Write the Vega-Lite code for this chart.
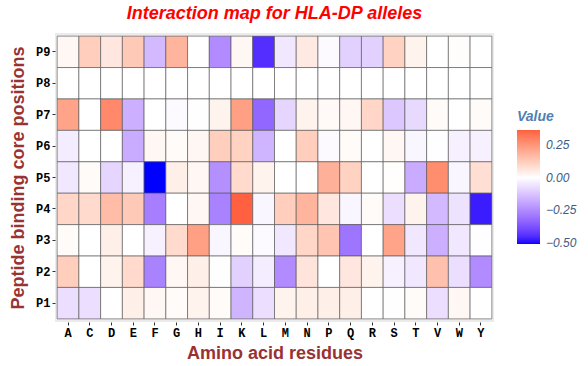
{
  "$schema": "https://vega.github.io/schema/vega-lite/v6.json",
  "width": 439,
  "height": 289,
  "autosize": {"type": "none"},
  "padding": {"left": 55, "top": 33, "right": 94, "bottom": 44},
  "background": "white",
  "title": {
    "text": "Interaction map for HLA-DP alleles",
    "font": "Liberation Sans",
    "fontSize": 18,
    "fontWeight": "bold",
    "fontStyle": "italic",
    "color": "#FF0000",
    "anchor": "middle",
    "offset": 10
  },
  "config": {
    "view": {"fill": "#EBEBEB", "stroke": null},
    "axis": {
      "domain": false,
      "grid": false,
      "tickColor": "#333333",
      "tickSize": 3,
      "labelFont": "Liberation Mono",
      "labelFontWeight": "bold",
      "labelFontSize": 12,
      "labelColor": "#000000",
      "titleFont": "Liberation Sans",
      "titleFontWeight": "bold",
      "titleFontSize": 18,
      "titleColor": "#993333"
    }
  },
  "data": {
    "values": [
      {"aa":"A","pos":"P9","v":0.02},{"aa":"C","pos":"P9","v":0.12},{"aa":"D","pos":"P9","v":0.06},{"aa":"E","pos":"P9","v":0.13},{"aa":"F","pos":"P9","v":-0.15},{"aa":"G","pos":"P9","v":0.18},{"aa":"H","pos":"P9","v":0.0},{"aa":"I","pos":"P9","v":-0.25},{"aa":"K","pos":"P9","v":0.02},{"aa":"L","pos":"P9","v":-0.45},{"aa":"M","pos":"P9","v":-0.05},{"aa":"N","pos":"P9","v":0.05},{"aa":"P","pos":"P9","v":-0.01},{"aa":"Q","pos":"P9","v":-0.1},{"aa":"R","pos":"P9","v":-0.1},{"aa":"S","pos":"P9","v":0.11},{"aa":"T","pos":"P9","v":0.03},{"aa":"V","pos":"P9","v":0.0},{"aa":"W","pos":"P9","v":0.005},{"aa":"Y","pos":"P9","v":0.0},
      {"aa":"A","pos":"P8","v":0},{"aa":"C","pos":"P8","v":0},{"aa":"D","pos":"P8","v":0},{"aa":"E","pos":"P8","v":0},{"aa":"F","pos":"P8","v":0},{"aa":"G","pos":"P8","v":0},{"aa":"H","pos":"P8","v":0},{"aa":"I","pos":"P8","v":0},{"aa":"K","pos":"P8","v":0},{"aa":"L","pos":"P8","v":0},{"aa":"M","pos":"P8","v":0},{"aa":"N","pos":"P8","v":0},{"aa":"P","pos":"P8","v":0},{"aa":"Q","pos":"P8","v":0},{"aa":"R","pos":"P8","v":0},{"aa":"S","pos":"P8","v":0},{"aa":"T","pos":"P8","v":0},{"aa":"V","pos":"P8","v":0},{"aa":"W","pos":"P8","v":0},{"aa":"Y","pos":"P8","v":0},
      {"aa":"A","pos":"P7","v":0.22},{"aa":"C","pos":"P7","v":0.0},{"aa":"D","pos":"P7","v":0.28},{"aa":"E","pos":"P7","v":-0.17},{"aa":"F","pos":"P7","v":0.0},{"aa":"G","pos":"P7","v":-0.01},{"aa":"H","pos":"P7","v":-0.003},{"aa":"I","pos":"P7","v":0.03},{"aa":"K","pos":"P7","v":0.23},{"aa":"L","pos":"P7","v":-0.33},{"aa":"M","pos":"P7","v":-0.09},{"aa":"N","pos":"P7","v":0.03},{"aa":"P","pos":"P7","v":0.015},{"aa":"Q","pos":"P7","v":0.02},{"aa":"R","pos":"P7","v":0.1},{"aa":"S","pos":"P7","v":-0.12},{"aa":"T","pos":"P7","v":-0.08},{"aa":"V","pos":"P7","v":0.01},{"aa":"W","pos":"P7","v":0.0},{"aa":"Y","pos":"P7","v":0.01},
      {"aa":"A","pos":"P6","v":-0.04},{"aa":"C","pos":"P6","v":0.0},{"aa":"D","pos":"P6","v":0.0},{"aa":"E","pos":"P6","v":-0.18},{"aa":"F","pos":"P6","v":0.02},{"aa":"G","pos":"P6","v":0.01},{"aa":"H","pos":"P6","v":0.02},{"aa":"I","pos":"P6","v":0.12},{"aa":"K","pos":"P6","v":0.11},{"aa":"L","pos":"P6","v":-0.16},{"aa":"M","pos":"P6","v":0.0},{"aa":"N","pos":"P6","v":0.12},{"aa":"P","pos":"P6","v":-0.01},{"aa":"Q","pos":"P6","v":0.01},{"aa":"R","pos":"P6","v":0.0},{"aa":"S","pos":"P6","v":0.02},{"aa":"T","pos":"P6","v":-0.02},{"aa":"V","pos":"P6","v":-0.005},{"aa":"W","pos":"P6","v":-0.03},{"aa":"Y","pos":"P6","v":-0.03},
      {"aa":"A","pos":"P5","v":-0.05},{"aa":"C","pos":"P5","v":0.01},{"aa":"D","pos":"P5","v":-0.09},{"aa":"E","pos":"P5","v":-0.03},{"aa":"F","pos":"P5","v":-0.51},{"aa":"G","pos":"P5","v":0.04},{"aa":"H","pos":"P5","v":0.02},{"aa":"I","pos":"P5","v":-0.24},{"aa":"K","pos":"P5","v":0.09},{"aa":"L","pos":"P5","v":0.03},{"aa":"M","pos":"P5","v":0.0},{"aa":"N","pos":"P5","v":0.0},{"aa":"P","pos":"P5","v":0.19},{"aa":"Q","pos":"P5","v":0.11},{"aa":"R","pos":"P5","v":0.0},{"aa":"S","pos":"P5","v":0.003},{"aa":"T","pos":"P5","v":-0.18},{"aa":"V","pos":"P5","v":0.27},{"aa":"W","pos":"P5","v":-0.02},{"aa":"Y","pos":"P5","v":0.08},
      {"aa":"A","pos":"P4","v":0.1},{"aa":"C","pos":"P4","v":0.09},{"aa":"D","pos":"P4","v":0.16},{"aa":"E","pos":"P4","v":0.13},{"aa":"F","pos":"P4","v":-0.28},{"aa":"G","pos":"P4","v":0.0},{"aa":"H","pos":"P4","v":0.02},{"aa":"I","pos":"P4","v":-0.27},{"aa":"K","pos":"P4","v":0.365},{"aa":"L","pos":"P4","v":-0.02},{"aa":"M","pos":"P4","v":0.12},{"aa":"N","pos":"P4","v":0.18},{"aa":"P","pos":"P4","v":0.06},{"aa":"Q","pos":"P4","v":-0.02},{"aa":"R","pos":"P4","v":0.01},{"aa":"S","pos":"P4","v":-0.07},{"aa":"T","pos":"P4","v":0.03},{"aa":"V","pos":"P4","v":-0.15},{"aa":"W","pos":"P4","v":-0.06},{"aa":"Y","pos":"P4","v":-0.48},
      {"aa":"A","pos":"P3","v":0.01},{"aa":"C","pos":"P3","v":0.0},{"aa":"D","pos":"P3","v":0.04},{"aa":"E","pos":"P3","v":0.0},{"aa":"F","pos":"P3","v":-0.03},{"aa":"G","pos":"P3","v":0.09},{"aa":"H","pos":"P3","v":0.23},{"aa":"I","pos":"P3","v":-0.02},{"aa":"K","pos":"P3","v":0.01},{"aa":"L","pos":"P3","v":-0.01},{"aa":"M","pos":"P3","v":-0.05},{"aa":"N","pos":"P3","v":0.1},{"aa":"P","pos":"P3","v":0.14},{"aa":"Q","pos":"P3","v":-0.3},{"aa":"R","pos":"P3","v":0.0},{"aa":"S","pos":"P3","v":0.22},{"aa":"T","pos":"P3","v":-0.05},{"aa":"V","pos":"P3","v":-0.17},{"aa":"W","pos":"P3","v":-0.05},{"aa":"Y","pos":"P3","v":-0.005},
      {"aa":"A","pos":"P2","v":0.12},{"aa":"C","pos":"P2","v":0.0},{"aa":"D","pos":"P2","v":0.03},{"aa":"E","pos":"P2","v":0.09},{"aa":"F","pos":"P2","v":-0.27},{"aa":"G","pos":"P2","v":0.02},{"aa":"H","pos":"P2","v":0.04},{"aa":"I","pos":"P2","v":-0.003},{"aa":"K","pos":"P2","v":-0.1},{"aa":"L","pos":"P2","v":-0.04},{"aa":"M","pos":"P2","v":-0.25},{"aa":"N","pos":"P2","v":0.065},{"aa":"P","pos":"P2","v":0.0},{"aa":"Q","pos":"P2","v":0.06},{"aa":"R","pos":"P2","v":0.03},{"aa":"S","pos":"P2","v":-0.03},{"aa":"T","pos":"P2","v":-0.05},{"aa":"V","pos":"P2","v":0.15},{"aa":"W","pos":"P2","v":-0.07},{"aa":"Y","pos":"P2","v":-0.25},
      {"aa":"A","pos":"P1","v":-0.07},{"aa":"C","pos":"P1","v":-0.07},{"aa":"D","pos":"P1","v":0.0},{"aa":"E","pos":"P1","v":0.04},{"aa":"F","pos":"P1","v":0.02},{"aa":"G","pos":"P1","v":0.01},{"aa":"H","pos":"P1","v":0.03},{"aa":"I","pos":"P1","v":0.01},{"aa":"K","pos":"P1","v":-0.16},{"aa":"L","pos":"P1","v":-0.07},{"aa":"M","pos":"P1","v":0.03},{"aa":"N","pos":"P1","v":0.04},{"aa":"P","pos":"P1","v":0.04},{"aa":"Q","pos":"P1","v":0.04},{"aa":"R","pos":"P1","v":0.0},{"aa":"S","pos":"P1","v":-0.003},{"aa":"T","pos":"P1","v":0.01},{"aa":"V","pos":"P1","v":-0.07},{"aa":"W","pos":"P1","v":0.02},{"aa":"Y","pos":"P1","v":0.0}
    ]
  },
  "mark": {"type": "rect", "stroke": "#4d4d4d", "strokeWidth": 0.7, "strokeOpacity": 0.85},
  "encoding": {
    "x": {
      "field": "aa",
      "type": "nominal",
      "sort": ["A","C","D","E","F","G","H","I","K","L","M","N","P","Q","R","S","T","V","W","Y"],
      "scale": {"paddingInner": 0, "paddingOuter": 0.1},
      "axis": {"title": "Amino acid residues", "labelAngle": 0, "labelPadding": 2, "titlePadding": 6}
    },
    "y": {
      "field": "pos",
      "type": "nominal",
      "sort": ["P9","P8","P7","P6","P5","P4","P3","P2","P1"],
      "scale": {"paddingInner": 0, "paddingOuter": 0.1},
      "axis": {"title": "Peptide binding core positions", "labelPadding": 2, "titlePadding": 8}
    },
    "color": {
      "field": "v",
      "type": "quantitative",
      "title": "Value",
      "scale": {
        "domain": [-0.51, 0, 0.365],
        "range": ["#0000FF", "#FFFFFF", "#FF6040"],
        "interpolate": "lab"
      },
      "legend": {
        "orient": "none",
        "legendX": 462,
        "legendY": 77,
        "values": [-0.5, -0.25, 0, 0.25],
        "format": ".2f",
        "gradientLength": 114,
        "gradientThickness": 23,
        "gradientStrokeWidth": 0,
        "tickCount": 4,
        "titleFont": "Liberation Sans",
        "titleFontSize": 14,
        "titleFontWeight": "bold",
        "titleFontStyle": "italic",
        "titleColor": "#4F7FB5",
        "titlePadding": 6,
        "labelFont": "Liberation Sans",
        "labelFontSize": 12,
        "labelFontStyle": "italic",
        "labelColor": "#3D5C85",
        "labelOffset": 6
      }
    }
  }
}
